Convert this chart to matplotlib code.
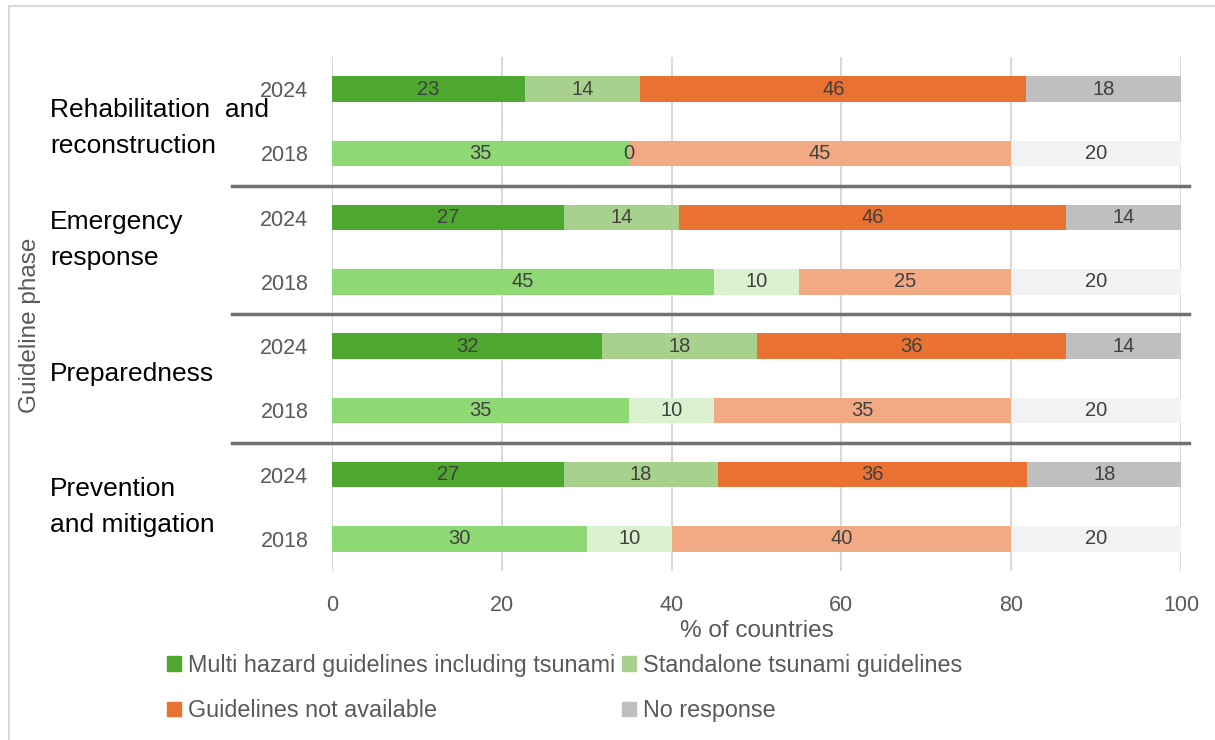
import numpy as np
import matplotlib.pyplot as plt
import matplotlib.transforms as mtransforms
from matplotlib.patches import Rectangle, Patch

plt.rcParams['font.family'] = ['Liberation Sans', 'DejaVu Sans']

# data, top group first: Rehabilitation, Emergency, Preparedness, Prevention
phases = [['Rehabilitation  and', 'reconstruction'], ['Emergency', 'response'],
          ['Preparedness'], ['Prevention', 'and mitigation']]
years = ['2024', '2018']
multi_2024 = [22.7, 27.3, 31.8, 27.3]
stand_2024 = [13.6, 13.6, 18.2, 18.2]
notav_2024 = [45.5, 45.5, 36.4, 36.4]
nores_2024 = [18.2, 13.6, 13.6, 18.2]
multi_2018 = [35, 45, 35, 30]
stand_2018 = [0, 10, 10, 10]
notav_2018 = [45, 25, 35, 40]
nores_2018 = [20, 20, 20, 20]
series_names = ['Multi hazard guidelines including tsunami', 'Standalone tsunami guidelines',
                'Guidelines not available', 'No response']
colors_2024 = ['#4EA72E', '#A9D18E', '#E97132', '#BFBFBF']
colors_2018 = ['#8ED973', '#DAF2D0', '#F2AA84', '#F2F2F2']

fig = plt.figure(figsize=(12.15, 7.4), dpi=100)
ax = fig.add_axes([332/1215, 1-571/740, (1181-332)/1215, (571-57)/740])

data_2024 = [multi_2024, stand_2024, notav_2024, nores_2024]
data_2018 = [multi_2018, stand_2018, notav_2018, nores_2018]
n = len(phases)
ypos_2024 = np.arange(n) * 2
ypos_2018 = np.arange(n) * 2 + 1

for ypos, data, cols in [(ypos_2024, data_2024, colors_2024), (ypos_2018, data_2018, colors_2018)]:
    left = np.zeros(n)
    for vals, c in zip(data, cols):
        vals = np.array(vals, dtype=float)
        ax.barh(ypos, vals, left=left, height=0.4, color=c, zorder=3)
        for y, l, v in zip(ypos, left, vals):
            ax.text(l + v / 2, y, f'{v:.0f}', ha='center', va='center',
                    fontsize=14.5, color='#404040', zorder=4)
        left += vals

ax.set_xlim(0, 100)
ax.set_ylim(2 * n - 0.5, -0.5)
ax.set_xticks(np.arange(0, 101, 20))
ax.set_yticks(np.arange(2 * n))
ax.set_yticklabels(years * n)
ax.tick_params(axis='both', length=0, labelsize=15.5, labelcolor='#595959')
ax.tick_params(axis='y', pad=17)
ax.tick_params(axis='x', pad=17)
ax.grid(axis='x', color='#D9D9D9', lw=1.5, zorder=0)
for s in ax.spines.values():
    s.set_visible(False)

ax.set_xlabel('% of countries', fontsize=17.5, color='#595959')
ax.xaxis.set_label_coords(0.5, (571-620)/514)
ax.set_ylabel('Guideline phase', fontsize=17.5, color='#595959')
ax.yaxis.set_label_coords((41-332)/849, (571-325)/514)

# group labels (text boxes placed by hand) and separators
label_shift = [0.06, -0.19, -0.10, -0.04]
line_pitch = 0.56
trans = mtransforms.blended_transform_factory(fig.transFigure, ax.transData)
for i, lines in enumerate(phases):
    yc = 2*i + 0.5 + label_shift[i]
    for k, line in enumerate(lines):
        yl = yc + (k - (len(lines) - 1) / 2) * line_pitch
        ax.text(50/1215, yl, line, transform=trans, ha='left', va='center_baseline',
                fontsize=19, color='black')
for i in range(1, n):
    ax.plot([232/1215, 1189/1215], [2*i - 0.5, 2*i - 0.5], transform=trans,
            color='#767171', lw=2.5, clip_on=False, zorder=5)

handles = [Patch(color=c) for c in colors_2024]
order = [0, 2, 1, 3]
fig.legend([handles[i] for i in order], [series_names[i] for i in order],
           ncol=2, loc='upper left', bbox_to_anchor=(146/1215, 1-633/740),
           frameon=False, fontsize=16.8, labelcolor='#595959',
           handlelength=0.6, handleheight=0.6, handletextpad=0.3,
           columnspacing=0.3, labelspacing=0.95)

fig.patches.append(Rectangle((9/1215, -0.05), 1.2, 1.05 - 6/740, transform=fig.transFigure,
                             fill=False, edgecolor='#D9D9D9', lw=1.5))

fig.savefig('out.png', dpi=100)
